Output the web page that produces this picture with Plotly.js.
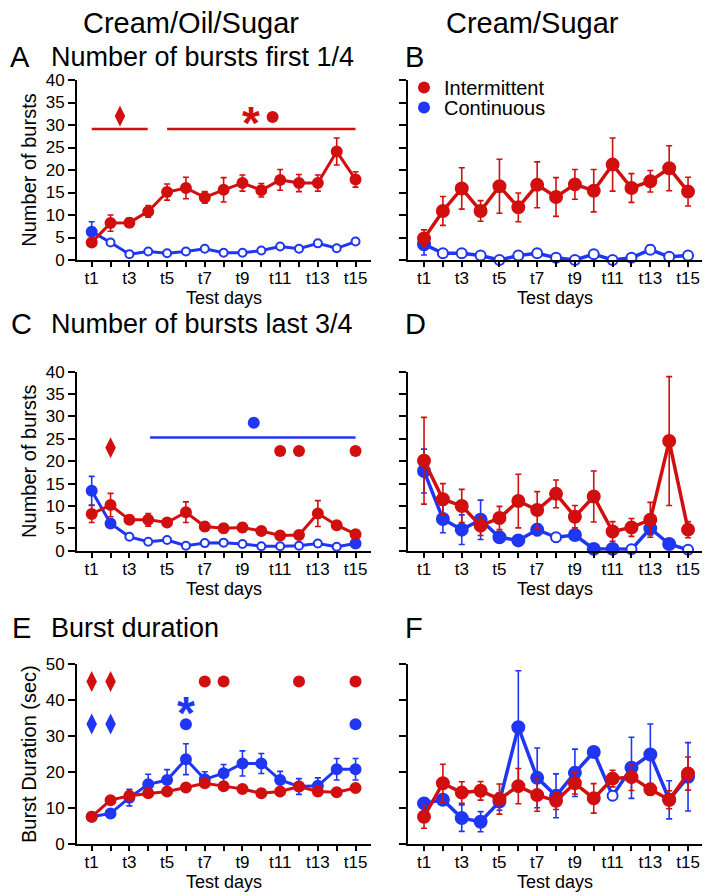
<!DOCTYPE html>
<html><head><meta charset="utf-8">
<script src="https://cdn.plot.ly/plotly-3.0.1.min.js"></script>
<style>body{margin:0;background:#fff}#chart{width:705px;height:896px}</style>
</head><body><div id="chart"></div>
<script>
// ---------- data ----------
const days = [1,2,3,4,5,6,7,8,9,10,11,12,13,14,15];
const tickText = ['t1','','t3','','t5','','t7','','t9','','t11','','t13','','t15'];
const seriesNames = ['Intermittent','Continuous'];

// A: Cream/Oil/Sugar, number of bursts first 1/4
const aRed     = [3.9, 8.2, 8.3, 10.8, 15.1, 16.0, 13.9, 15.6, 17.1, 15.5, 17.8, 17.1, 17.1, 24.1, 17.9];
const aRedErr  = [0.6, 1.8, 1.0, 1.3, 1.8, 2.4, 1.3, 2.7, 1.8, 1.5, 2.3, 1.9, 1.8, 3.0, 1.7];
const aBlue    = [6.3, 3.9, 1.3, 1.9, 1.5, 1.9, 2.5, 1.6, 1.6, 2.1, 3.0, 2.5, 3.7, 2.6, 4.1];
const aBlueErr = [2.2, 0, 0, 0, 0, 0, 0, 0, 0, 0, 0, 0, 0, 0, 0];
const aBlueOpen= [0,1,1,1,1,1,1,1,1,1,1,1,1,1,1];

// B: Cream/Sugar, number of bursts first 1/4
const bRed     = [4.8, 10.9, 15.9, 10.9, 16.4, 11.7, 16.7, 14.0, 16.8, 15.4, 21.2, 16.0, 17.5, 20.4, 15.2];
const bRedErr  = [1.9, 3.2, 4.6, 2.3, 6.0, 3.2, 5.1, 4.3, 3.3, 4.7, 5.9, 3.2, 2.4, 5.0, 3.2];
const bBlue    = [3.5, 1.5, 1.5, 1.0, 0.0, 1.0, 1.5, 0.5, 0.0, 1.3, 0.0, 0.5, 2.3, 0.7, 1.0];
const bBlueErr = [2.4, 0, 0, 0, 0, 0, 0, 0, 0, 0, 0, 0, 1.0, 0, 0];
const bBlueOpen= [0,1,1,1,1,1,1,1,1,1,1,1,1,1,1];

// C: Cream/Oil/Sugar, number of bursts last 3/4
const cRed     = [8.2, 10.2, 6.9, 6.9, 6.3, 8.6, 5.4, 5.0, 5.2, 4.4, 3.4, 3.5, 8.3, 5.7, 3.7];
const cRedErr  = [1.9, 2.6, 1.0, 1.4, 0.7, 2.3, 1.0, 1.0, 1.0, 0.7, 0.8, 0.7, 2.9, 1.0, 0.6];
const cBlue    = [13.4, 6.1, 3.1, 2.0, 2.4, 1.1, 1.7, 1.8, 1.5, 1.0, 1.0, 1.1, 1.6, 0.9, 1.6];
const cBlueErr = [3.2, 0.8, 0, 0, 0, 0, 0, 0, 0, 0, 0, 0, 0, 0, 0.3];
const cBlueOpen= [0,0,1,1,1,1,1,1,1,1,1,1,1,1,0];

// D: Cream/Sugar, number of bursts last 3/4
const dRed     = [20.1, 11.5, 10.0, 5.6, 7.3, 11.1, 9.1, 12.7, 7.6, 12.1, 4.3, 5.2, 6.9, 24.5, 4.7];
const dRedErr  = [9.7, 3.5, 3.7, 2.2, 2.6, 6.0, 4.1, 3.1, 2.5, 5.7, 2.2, 2.0, 3.9, 14.4, 1.8];
const dBlue    = [17.8, 7.1, 4.7, 6.9, 3.0, 2.3, 4.7, 3.0, 3.5, 0.4, 0.4, 0.3, 5.0, 1.5, 0.2];
const dBlueErr = [4.9, 3.1, 3.3, 4.4, 1.0, 0.7, 1.3, 1.0, 1.0, 0.3, 0.3, 0.2, 1.5, 0.4, 0.2];
const dBlueOpen= [0,0,0,0,0,0,0,1,0,0,0,1,0,0,1];

// E: Cream/Oil/Sugar, burst duration (sec)
const eRed     = [7.6, 12.2, 13.4, 14.1, 14.6, 15.7, 16.9, 16.1, 15.3, 14.1, 14.6, 16.0, 14.6, 14.4, 15.6];
const eRedErr  = [0.4, 0.5, 0.8, 0.8, 0.9, 0.8, 0.8, 0.5, 0.5, 0.5, 0.5, 1.3, 1.3, 0.6, 0.6];
const eBlue    = [7.6, 8.5, 12.9, 16.6, 17.8, 23.6, 18.0, 19.7, 22.4, 22.4, 17.8, 16.0, 16.2, 20.8, 20.8];
const eBlueErr = [0.4, 0.5, 2.3, 2.8, 2.9, 4.3, 2.1, 2.4, 3.5, 2.8, 2.4, 2.2, 2.2, 3.0, 3.0];
const eBlueOpen= [0,0,0,0,0,0,0,0,0,0,0,0,0,0,0];

// F: Cream/Sugar, burst duration (sec)
const fRed     = [7.6, 16.9, 14.3, 14.8, 12.5, 16.1, 13.6, 12.0, 16.9, 12.7, 18.2, 18.6, 15.2, 12.3, 19.6];
const fRedErr  = [3.2, 5.3, 3.0, 2.6, 4.2, 4.9, 4.5, 2.4, 3.0, 4.1, 2.3, 3.7, 1.6, 2.5, 4.6];
const fBlue    = [11.3, 12.3, 7.2, 6.2, 11.8, 32.5, 18.4, 13.4, 19.8, 25.6, 13.4, 21.2, 24.9, 12.3, 18.7];
const fBlueErr = [1.0, 1.0, 3.7, 2.8, 2.4, 15.7, 8.3, 6.1, 6.6, 1.0, 0, 8.5, 8.5, 5.3, 9.5];
const fBlueOpen= [0,0,0,0,0,0,0,0,0,0,1,0,0,0,0];

// significance marks (x in test days, y in axis units)
const aRedLineStart = [1, 5];   const aRedLineEnd = [3.97, 15]; const aRedLineY = [29.1, 29.1];
const aRedDiamondX = [2.5];     const aRedDiamondY = [32.0];
const aRedCircleX  = [10.6];    const aRedCircleY  = [31.8];
const aRedStarX    = [9.43];    const aRedStarY    = [32.3];

const cBlueLineStart = [4.1];   const cBlueLineEnd = [15];      const cBlueLineY = [25.3];
const cBlueCircleX = [9.6];     const cBlueCircleY = [28.6];
const cRedDiamondX = [2];       const cRedDiamondY = [23.0];
const cRedCircleX  = [11, 12, 15]; const cRedCircleY = [22.3, 22.3, 22.3];

const eRedDiamondX  = [1, 2];   const eRedDiamondY  = [45.2, 45.2];
const eBlueDiamondX = [1, 2];   const eBlueDiamondY = [33.4, 33.4];
const eRedCircleX   = [7, 8, 12, 15]; const eRedCircleY = [45.2, 45.2, 45.2, 45.2];
const eBlueCircleX  = [6, 15];  const eBlueCircleY  = [33.3, 33.3];
const eBlueStarX    = [6];      const eBlueStarY    = [38.7];

// ---------- style ----------
const RED = '#d10f0f', BLUE = '#1f36f2';
const FONT = 'Liberation Sans, Arial, Helvetica, sans-serif';
const W = 705, H = 896;
const px = v => v / W, py = v => 1 - v / H;

const traces = [];
function addSeries(y, err, open, color, xa, ya, size, lw) {
  const fillCol = open.map(o => o ? '#ffffff' : color);
  traces.push({
    x: days, y: y, xaxis: xa, yaxis: ya, type: 'scatter', mode: 'lines+markers',
    showlegend: false, cliponaxis: false,
    line: {color: color, width: lw},
    marker: {size: open.map(o => o ? size - 2 : size), sizemode: 'diameter', opacity: 1,
      color: fillCol, line: {color: color, width: 2}},
    error_y: {type: 'data', array: err, visible: true, color: color, thickness: 1.6, width: 3}
  });
}
const zeros = days.map(() => 0);
const panels = [
  ['x','y', aRed, aRedErr, aBlue, aBlueErr, aBlueOpen, 10, 3],
  ['x2','y2', bRed, bRedErr, bBlue, bBlueErr, bBlueOpen, 12, 3.5],
  ['x3','y3', cRed, cRedErr, cBlue, cBlueErr, cBlueOpen, 10, 3],
  ['x4','y4', dRed, dRedErr, dBlue, dBlueErr, dBlueOpen, 12, 3.5],
  ['x5','y5', eRed, eRedErr, eBlue, eBlueErr, eBlueOpen, 10, 3],
  ['x6','y6', fRed, fRedErr, fBlue, fBlueErr, fBlueOpen, 12, 3.5]
];
panels.forEach(p => {
  addSeries(p[4], p[5], p[6], BLUE, p[0], p[1], p[7], p[8]);
  addSeries(p[2], p[3], zeros, RED, p[0], p[1], p[7], p[8]);
});

// significance lines and marks
function addLines(starts, ends, ys, color, xa, ya) {
  starts.forEach((s, i) => traces.push({
    x: [s, ends[i]], y: [ys[i], ys[i]], xaxis: xa, yaxis: ya, mode: 'lines',
    showlegend: false, hoverinfo: 'skip', cliponaxis: false, line: {color: color, width: 2.5}
  }));
}
function addMarks(xs, ys, color, symbol, size, xa, ya) {
  traces.push({x: xs, y: ys, xaxis: xa, yaxis: ya, mode: 'markers', showlegend: false,
    cliponaxis: false, marker: {symbol: symbol, size: size, color: color, opacity: 1, line: {width: 0}}});
}
addLines(aRedLineStart, aRedLineEnd, aRedLineY, RED, 'x', 'y');
addMarks(aRedDiamondX, aRedDiamondY, RED, 'diamond-tall', 15, 'x', 'y');
addMarks(aRedCircleX, aRedCircleY, RED, 'circle', 12, 'x', 'y');
addLines(cBlueLineStart, cBlueLineEnd, cBlueLineY, BLUE, 'x3', 'y3');
addMarks(cBlueCircleX, cBlueCircleY, BLUE, 'circle', 12, 'x3', 'y3');
addMarks(cRedDiamondX, cRedDiamondY, RED, 'diamond-tall', 15, 'x3', 'y3');
addMarks(cRedCircleX, cRedCircleY, RED, 'circle', 12, 'x3', 'y3');
addMarks(eRedDiamondX, eRedDiamondY, RED, 'diamond-tall', 15, 'x5', 'y5');
addMarks(eBlueDiamondX, eBlueDiamondY, BLUE, 'diamond-tall', 15, 'x5', 'y5');
addMarks(eRedCircleX, eRedCircleY, RED, 'circle', 12, 'x5', 'y5');
addMarks(eBlueCircleX, eBlueCircleY, BLUE, 'circle', 12, 'x5', 'y5');

// legend entries (panel B), one legend box per entry for tight spacing
[RED, BLUE].forEach((c, i) => traces.push({
  x: [null], y: [null], xaxis: 'x2', yaxis: 'y2', mode: 'markers', name: seriesNames[i],
  showlegend: true, legend: i === 0 ? 'legend' : 'legend2', marker: {size: 12, color: c}
}));

// ---------- axes ----------
function xAxis(dom, range, anchor) {
  return {domain: dom, range: range, anchor: anchor, tickmode: 'array', tickvals: days, ticktext: tickText,
    ticks: 'outside', ticklen: 5, tickwidth: 2, tickcolor: '#000', showline: true, linewidth: 2,
    linecolor: '#000', showgrid: false, zeroline: false, tickfont: {size: 17, color: '#000'},
    ticklabelstandoff: -3,
    title: {text: 'Test days', font: {size: 18, color: '#000'}, standoff: 2}};
}
function yAxis(dom, max, dt, anchor, labels, title) {
  return {domain: dom, range: [0, max], dtick: dt, tick0: 0, anchor: anchor, ticks: 'outside',
    ticklen: 7, tickwidth: 2, tickcolor: '#000', showline: true, linewidth: 2, linecolor: '#000',
    showgrid: false, zeroline: false, showticklabels: labels, tickfont: {size: 17, color: '#000'},
    title: {text: title, font: {size: 20, color: '#000'}, standoff: 4}};
}
const xL = [px(77), px(371)], xR = [px(408), px(702)];
const yTop = [py(260), py(80)], yMid = [py(550.7), py(371.7)], yBot = [py(844), py(664.3)];
const rL = [0.22, 15.82], rR = [0.15, 15.74];

const ann = [];
function label(text, x, y, size, anchor) {
  ann.push({xref: 'paper', yref: 'paper', x: px(x), y: py(y), text: text, showarrow: false,
    xanchor: anchor || 'left', yanchor: 'middle', borderpad: 0, font: {size: size, color: '#000'}});
}
label('Cream/Oil/Sugar', 191, 23, 29, 'center');
label('Cream/Sugar', 532, 23, 29, 'center');
label('A', 9, 57, 29); label('Number of bursts first 1/4', 50, 57, 27);
label('B', 404, 57, 29);
label('C', 10, 324, 29); label('Number of bursts last 3/4', 50, 324, 27);
label('D', 404, 324, 29);
label('E', 11, 628, 29); label('Burst duration', 50, 628, 27);
label('F', 404, 628, 29);
// asterisks
function star(xs, ys, color, xr, yr) {
  xs.forEach((x, i) => ann.push({xref: xr, yref: yr, x: x, y: ys[i], text: '<b>*</b>', showarrow: false,
    xanchor: 'center', yanchor: 'middle', yshift: -8, font: {size: 46, color: color}}));
}
star(aRedStarX, aRedStarY, RED, 'x', 'y');
star(eBlueStarX, eBlueStarY, BLUE, 'x5', 'y5');

const legendBase = {x: px(404), xanchor: 'left', yanchor: 'top', bgcolor: 'rgba(0,0,0,0)',
  font: {size: 20, color: '#000'}, itemclick: false};
const layout = {
  width: W, height: H, margin: {l: 0, r: 0, t: 0, b: 0},
  paper_bgcolor: '#fff', plot_bgcolor: '#fff',
  font: {family: FONT, color: '#000'},
  showlegend: true,
  legend: Object.assign({}, legendBase, {y: py(68)}),
  legend2: Object.assign({}, legendBase, {y: py(88)}),
  xaxis:  xAxis(xL, rL, 'y'),  yaxis:  yAxis(yTop, 40, 5, 'x', true, 'Number of bursts'),
  xaxis2: xAxis(xR, rR, 'y2'), yaxis2: yAxis(yTop, 40, 5, 'x2', false, ''),
  xaxis3: xAxis(xL, rL, 'y3'), yaxis3: yAxis(yMid, 40, 5, 'x3', true, 'Number of bursts'),
  xaxis4: xAxis(xR, rR, 'y4'), yaxis4: yAxis(yMid, 40, 5, 'x4', false, ''),
  xaxis5: xAxis(xL, rL, 'y5'), yaxis5: yAxis(yBot, 50, 10, 'x5', true, 'Burst Duration (sec)'),
  xaxis6: xAxis(xR, rR, 'y6'), yaxis6: yAxis(yBot, 50, 10, 'x6', false, ''),
  annotations: ann
};
Plotly.newPlot('chart', traces, layout, {displayModeBar: false, staticPlot: true});
</script>
</body></html>
